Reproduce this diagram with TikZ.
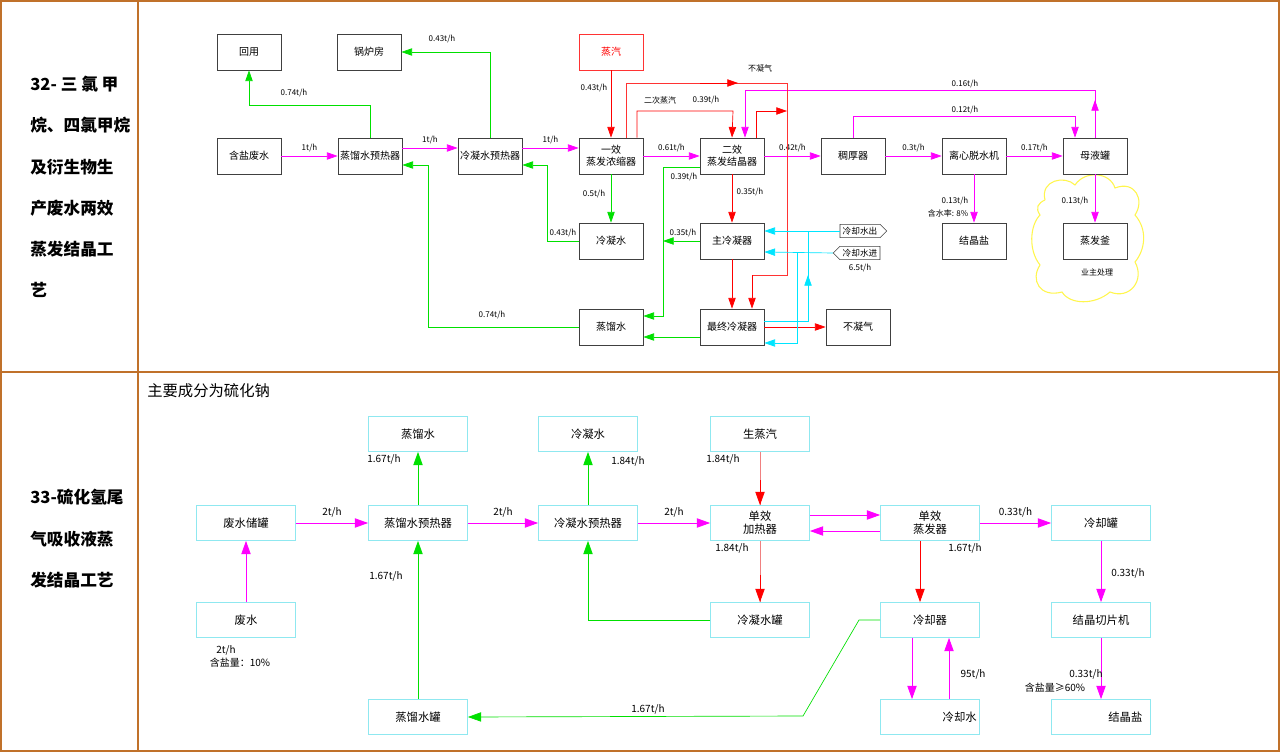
\documentclass[tikz,border=0pt]{standalone}
\usepackage{fontspec}
\setmainfont{Noto Sans CJK SC}
\usetikzlibrary{arrows.meta,calc,shapes.symbols,shapes.misc}
\definecolor{frame}{HTML}{C0712A}
\definecolor{mg}{HTML}{FF00FF}
\definecolor{gr}{HTML}{00E000}
\definecolor{cy}{HTML}{00E5FF}
\definecolor{bcy}{HTML}{8FE8F0}
\definecolor{lred}{HTML}{F08080}
\begin{document}
\begin{tikzpicture}[x=0.75pt,y=-0.75pt,
  tb/.style={draw=black!75,line width=0.6pt,minimum width=48pt,minimum height=27pt,inner sep=1pt,font=\fontsize{7.5}{9}\selectfont,align=center},
  bb/.style={draw=bcy,line width=0.8pt,minimum width=74pt,minimum height=26pt,inner sep=1pt,font=\fontsize{8.5}{10}\selectfont,align=center},
  lb/.style={font=\fontsize{6}{7}\selectfont,inner sep=0pt,text=black},
  bl/.style={font=\fontsize{7.5}{9}\selectfont,inner sep=0pt,text=black},
  ar/.style={-{Triangle[length=8pt,width=5.5pt]},line width=0.5pt},
  br/.style={-{Triangle[length=10pt,width=7pt]},line width=0.6pt},
  side/.style={font=\fontsize{12.5}{15}\selectfont\bfseries,anchor=west,inner sep=0pt}]
\useasboundingbox (0,0) rectangle (1280,752);
\fill[white] (0,0) rectangle (1280,752);
\draw[frame,line width=1.5pt] (1,1) rectangle (1279,751);
\draw[frame,line width=1.5pt] (1,372) -- (1279,372);
\draw[frame,line width=1.5pt] (138,1) -- (138,751);
% left column
\node[side] (s1) at (30,84) {32- 三 氯 甲};
\node[side] (s2) at (30,125) {烷、四氯甲烷};
\node[side] (s3) at (30,167) {及衍生物生};
\node[side] (s4) at (30,208) {产废水两效};
\node[side] (s5) at (30,249) {蒸发结晶工};
\node[side] (s6) at (30,290) {艺};
\node[side] (t1) at (30,497) {33-硫化氢尾};
\node[side] (t2) at (30,539) {气吸收液蒸};
\node[side] (t3) at (30,580) {发结晶工艺};
% ---------- top ----------
\draw[yellow!70,line width=0.8pt] (1045,200) .. controls (1040,180) and (1065,175) .. (1075,185)
  .. controls (1085,170) and (1110,172) .. (1115,188) .. controls (1135,180) and (1145,200) .. (1135,215)
  .. controls (1148,230) and (1145,250) .. (1135,262) .. controls (1145,280) and (1130,300) .. (1110,292)
  .. controls (1095,305) and (1070,305) .. (1062,292) .. controls (1040,298) and (1030,280) .. (1040,265)
  .. controls (1028,250) and (1030,225) .. (1040,215) .. controls (1035,208) and (1038,203) .. (1045,200);
\node[tb] (hy) at (249,52) {回用};
\node[tb] (gl) at (369,52) {锅炉房};
\node[tb,draw=red!80,text=red] (zq) at (611,52) {蒸汽};
\node[tb] (hs) at (249,156) {含盐废水};
\node[tb] (zy) at (370,156) {蒸馏水预热器};
\node[tb] (ly) at (490,156) {冷凝水预热器};
\node[tb] (yx) at (611,156) {一效\\蒸发浓缩器};
\node[tb] (ex) at (732,156) {二效\\蒸发结晶器};
\node[tb] (ch) at (853,156) {稠厚器};
\node[tb] (lx) at (974,156) {离心脱水机};
\node[tb] (my) at (1095,156) {母液罐};
\node[tb] (ln) at (611,241) {冷凝水};
\node[tb] (zl) at (732,241) {主冷凝器};
\node[tb] (jy) at (974,241) {结晶盐};
\node[tb] (zf) at (1095,241) {蒸发釜};
\node[tb] (zs) at (611,327) {蒸馏水};
\node[tb] (zz) at (732,327) {最终冷凝器};
\node[tb] (bn) at (858,327) {不凝气};
\node[draw=black!75,signal,signal to=east,minimum width=35pt,minimum height=10pt,inner sep=1pt,font=\fontsize{6.5}{7}\selectfont] (co) at (860,231) {冷却水出};
\node[draw=black!75,signal,signal to=west,minimum width=35pt,minimum height=10pt,inner sep=1pt,font=\fontsize{6.5}{7}\selectfont] (ci) at (860,253) {冷却水进};
\node[lb] at (760,68) {不凝气};
\node[lb] at (1097,272) {业主处理};
% magenta
\draw[ar,mg] (hs) -- (zy) node[lb,midway,above=3pt]{1t/h};
\draw[ar,mg] ($(zy.east)+(0,-8)$) -- ($(ly.west)+(0,-8)$) node[lb,midway,above=3pt]{1t/h};
\draw[ar,mg] ($(ly.east)+(0,-8)$) -- ($(yx.west)+(0,-8)$) node[lb,midway,above=3pt]{1t/h};
\draw[ar,mg] (yx) -- (ex) node[lb,midway,above=3pt]{0.61t/h};
\draw[ar,mg] (ex) -- (ch) node[lb,midway,above=3pt]{0.42t/h};
\draw[ar,mg] (ch) -- (lx) node[lb,midway,above=3pt]{0.3t/h};
\draw[ar,mg] (lx) -- (my) node[lb,midway,above=3pt]{0.17t/h};
\draw[ar,mg] (lx) -- (jy);
\node[lb] at (955,201) {0.13t/h};
\node[lb] at (948,213) {含水率: 8\%};
\draw[ar,mg] (my) -- (zf);
\node[lb] at (1075,201) {0.13t/h};
\draw[ar,mg] (my.north) |- (745,90) -- ($(ex.north)+(13,0)$);
\draw[ar,mg] (1095,120) -- (1095,100);
\node[lb] at (965,84) {0.16t/h};
\draw[ar,mg] (ch.north) |- (1075,116) -- ($(my.north)+(-20,0)$);
\node[lb] at (965,110) {0.12t/h};
% green top
\draw[ar,gr] (zy.north) |- (249,105) -- (hy.south);
\node[lb] at (294,93) {0.74t/h};
\draw[ar,gr] (ly.north) |- (gl.east);
\node[lb] at (442,39) {0.43t/h};
\draw[ar,gr] (ln.west) -| (547,165) -- ($(ly.east)+(0,9)$);
\node[lb] at (563,233) {0.43t/h};
\draw[ar,gr] (zs.west) -| (428,165) -- ($(zy.east)+(0,9)$);
\node[lb] at (492,315) {0.74t/h};
\draw[ar,gr] (yx) -- (ln);
\node[lb] at (594,194) {0.5t/h};
\draw[ar,gr] ($(ex.west)+(0,11)$) -| (663,316) -- ($(zs.east)+(0,-11)$);
\node[lb] at (684,177) {0.39t/h};
\draw[ar,gr] (zl.west) -- (663,241);
\node[lb] at (683,233) {0.35t/h};
\draw[ar,gr] ($(zz.west)+(0,10)$) -- ($(zs.east)+(0,10)$);
% red top
\draw[ar,red] (zq) -- (yx);
\node[lb] at (594,88) {0.43t/h};
\draw[red!80,line width=0.5pt] ($(yx.north)+(15,0)$) |- (787,83) -- (787,275) -- (752,275);
\draw[ar,red] (752,275) -- ($(zz.north)+(20,0)$);
\draw[ar,red] (700,83) -- (738,83);
\draw[ar,red] ($(yx.north)+(26,0)$) |- (733,111) -- (ex.north);
\node[lb] at (660,100) {二次蒸汽};
\node[lb] at (706,100) {0.39t/h};
\draw[ar,red] ($(ex.north)+(24,0)$) |- (787,111);
\draw[ar,red] (ex) -- (zl);
\node[lb] at (750,192) {0.35t/h};
\draw[ar,red] (zl) -- (zz);
\draw[ar,red] (zz) -- (bn);
% cyan
\draw[ar,cy] (co.west) -- ($(zl.east)+(0,-10)$);
\draw[ar,cy] (ci.west) -- ($(zl.east)+(0,11)$);
\draw[ar,cy] (797,253) |- ($(zz.east)+(0,16)$);
\draw[cy,line width=0.5pt] ($(zz.east)+(0,-6)$) -| (808,231);
\draw[ar,cy] (808,300) -- (808,275);
\node[lb] at (860,268) {6.5t/h};
% ---------- bottom ----------
\node[anchor=west,inner sep=0pt,font=\fontsize{11.5}{13}\selectfont] (hd) at (147,391) {主要成分为硫化钠};
\node[bb] (b1) at (418,434) {蒸馏水};
\node[bb] (b2) at (588,434) {冷凝水};
\node[bb] (b3) at (760,434) {生蒸汽};
\node[bb] (b4) at (246,523) {废水储罐};
\node[bb] (b5) at (418,523) {蒸馏水预热器};
\node[bb] (b6) at (588,523) {冷凝水预热器};
\node[bb] (b7) at (760,523) {单效\\加热器};
\node[bb] (b8) at (930,523) {单效\\蒸发器};
\node[bb] (b9) at (1101,523) {冷却罐};
\node[bb] (b10) at (246,620) {废水};
\node[bb] (b11) at (760,620) {冷凝水罐};
\node[bb] (b12) at (930,620) {冷却器};
\node[bb] (b13) at (1101,620) {结晶切片机};
\node[bb] (b14) at (418,717) {蒸馏水罐};
\node[bb,text width=70pt,align=right] (b15) at (930,717) {冷却水};
\node[bb,text width=62pt,align=right] (b16) at (1101,717) {结晶盐};
\draw[br,mg] (b10) -- (b4);
\node[bl] at (226,650) {2t/h};
\node[bl] at (240,663) {含盐量：10\%};
\draw[br,mg] (b4) -- (b5) node[bl,midway,above=4pt]{2t/h};
\draw[br,mg] (b5) -- (b6) node[bl,midway,above=4pt]{2t/h};
\draw[br,mg] (b6) -- (b7) node[bl,midway,above=4pt]{2t/h};
\draw[br,gr] (b5) -- (b1);
\node[bl] at (384,459) {1.67t/h};
\draw[br,gr] (b14) -- (b5);
\node[bl] at (386,576) {1.67t/h};
\draw[br,gr] (b6) -- (b2);
\node[bl] at (628,461) {1.84t/h};
\draw[br,gr] (b11.west) -| (b6.south);
\draw[lred,line width=0.6pt] (b3) -- (b7);
\draw[br,red] (760,480) -- (b7.north);
\node[bl] at (723,459) {1.84t/h};
\draw[lred,line width=0.6pt] (b7) -- (b11);
\draw[br,red] (760,575) -- (b11.north);
\node[bl] at (732,548) {1.84t/h};
\draw[br,mg] ($(b7.east)+(0,-8)$) -- ($(b8.west)+(0,-8)$);
\draw[br,mg] ($(b8.west)+(0,8)$) -- ($(b7.east)+(0,8)$);
\draw[br,mg] (b8) -- (b9) node[bl,midway,above=4pt]{0.33t/h};
\draw[br,red] ($(b8.south)+(-10,0)$) -- ($(b12.north)+(-10,0)$);
\node[bl] at (965,548) {1.67t/h};
\draw[br,mg] (b9) -- (b13);
\node[bl] at (1128,573) {0.33t/h};
\draw[br,mg] (b13) -- (b16);
\node[bl] at (1086,674) {0.33t/h};
\draw[br,mg] ($(b12.south)+(-18,0)$) -- ($(b15.north)+(-18,0)$);
\draw[br,mg] ($(b15.north)+(19,0)$) -- ($(b12.south)+(19,0)$);
\node[bl] at (973,674) {95t/h};
\node[bl] at (1055,688) {含盐量≥60\%};
\draw[br,gr,line width=0.5pt] (b12.west) -- (859,620) -- (803,716) -- (b14.east);
\node[bl] at (648,709) {1.67t/h};
\end{tikzpicture}
\end{document}
